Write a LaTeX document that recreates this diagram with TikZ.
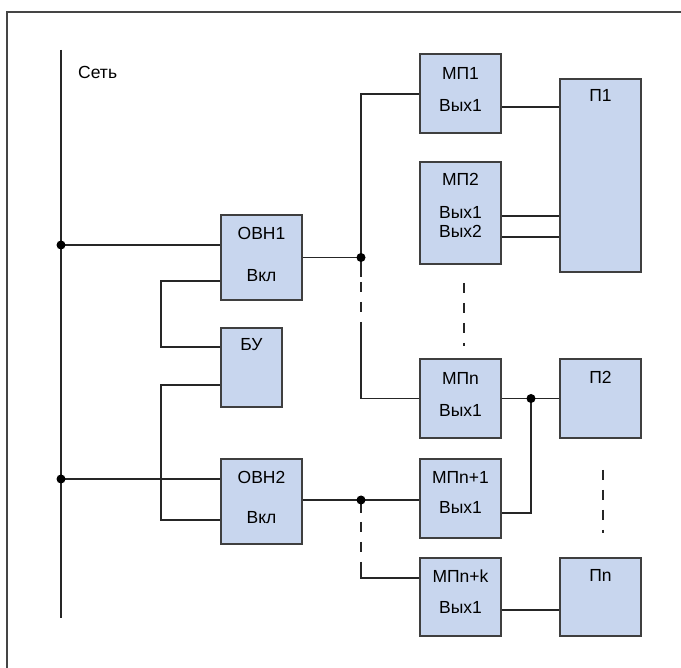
\documentclass[tikz,border=0pt]{standalone}
\usepackage{fontspec}
\setmainfont{Liberation Sans}
\usepackage{xcolor}
\usepackage{tikz}
\usetikzlibrary{calc,positioning}
\definecolor{blockfill}{HTML}{C8D6EE}
\definecolor{blockline}{HTML}{3F3F3F}
\definecolor{frameline}{HTML}{454545}
\tikzset{
  wire/.style={line width=1.7pt, draw=black!85},
  gapwire/.style={wire, dash pattern=on 10pt off 10pt},
  blk/.style={
    draw=blockline,
    line width=1.6pt,
    fill=blockfill,
    inner sep=0pt,
    minimum width=81pt
  },
  txt/.style={font=\fontsize{17.5}{20}\selectfont, inner sep=0pt, text=black},
  joint/.style={circle, fill=black, inner sep=0pt, minimum size=9pt}
}

\begin{document}
\begin{tikzpicture}[x=1pt,y=-1pt]
\useasboundingbox (0,0) rectangle (681,668);
\fill[white] (0,0) rectangle (681,668);
\draw[line width=1.7pt, frameline] (7,690) -- (7,12) -- (700,12);

\node[blk, minimum height=85pt] (ovn1) at (261.5,257.5) {};
\node[blk, minimum width=61pt, minimum height=79pt] (bu) at (251.5,367.5) {};
\node[blk, minimum height=85pt] (ovn2) at (261.5,501.5) {};
\node[blk, minimum height=79pt] (mp1) at (460.5,93.5) {};
\node[blk, minimum height=102pt] (mp2) at (460.5,213) {};
\node[blk, minimum height=79pt] (mpn) at (460.5,398.5) {};
\node[blk, minimum height=79pt] (mpn1) at (460.5,498.5) {};
\node[blk, minimum height=78pt] (mpnk) at (460.5,597) {};
\node[blk, minimum height=193pt] (p1) at (600.5,175.5) {};
\node[blk, minimum height=79pt] (p2) at (600.5,398.5) {};
\node[blk, minimum height=78pt] (pn) at (600.5,597) {};

\node[txt, anchor=west] (net) at (78,72) {Сеть};
\node[txt] (ovn1a) at (261.5,233) {ОВН1};
\node[txt] (ovn1b) at (261.5,276) {Вкл};
\node[txt] (bua) at (251.5,345) {БУ};
\node[txt] (ovn2a) at (261.5,477) {ОВН2};
\node[txt] (ovn2b) at (261.5,518) {Вкл};
\node[txt] (mp1a) at (460.5,73) {МП1};
\node[txt] (mp1b) at (460.5,105) {Вых1};
\node[txt] (mp2a) at (460.5,179) {МП2};
\node[txt] (mp2b) at (460.5,212) {Вых1};
\node[txt] (mp2c) at (460.5,231) {Вых2};
\node[txt] (mpna) at (460.5,378) {МПn};
\node[txt] (mpnb) at (460.5,410) {Вых1};
\node[txt] (mpn1a) at (460.5,477) {МПn+1};
\node[txt] (mpn1b) at (460.5,507) {Вых1};
\node[txt] (mpnka) at (460.5,576) {МПn+k};
\node[txt] (mpnkb) at (460.5,607) {Вых1};
\node[txt] (p1a) at (600.5,95) {П1};
\node[txt] (p2a) at (600.5,377) {П2};
\node[txt] (pna) at (600.5,575) {Пn};

\coordinate (nettop) at (61,50);
\coordinate (netbot) at (61,618);
\coordinate (tapA) at (61,245);
\coordinate (tapB) at (61,479);
\coordinate (busA) at (361,257.5);
\coordinate (busB) at (361,500);
\coordinate (outn) at (531,398.5);

\draw[wire] (nettop) -- (netbot);
\draw[wire] (tapA) -- (ovn1.west |- tapA);
\draw[wire] (tapB) -- (ovn2.west |- tapB);
\draw[wire] (bu.west |- 0,347) -- (161,347) -- (161,281) -- (ovn1.west |- 0,281);
\draw[wire] (bu.west |- 0,385) -- (161,385) -- (161,520) -- (ovn2.west |- 0,520);

\draw[wire] (ovn1.east) -- (busA) -- (361,94) -- (mp1.west |- 0,94);
\draw[wire] (busA) -- (361,277);
\draw[gapwire] (361,282) -- (361,327);
\draw[wire] (361,327) -- (361,398.5) -- (mpn.west);
\draw[wire] (ovn2.east |- busB) -- (busB) -- (mpn1.west |- busB);
\draw[wire] (busB) -- (361,513);
\draw[gapwire] (361,522) -- (361,562);
\draw[wire] (361,562) -- (361,578) -- (mpnk.west |- 0,578);

\draw[wire] (mp1.east |- 0,107) -- (p1.west |- 0,107);
\draw[wire] (mp2.east |- 0,216) -- (p1.west |- 0,216);
\draw[wire] (mp2.east |- 0,237) -- (p1.west |- 0,237);
\draw[wire] (mpn.east) -- (outn) -- (p2.west);
\draw[wire] (outn) -- (531,513) -- (mpn1.east |- 0,513);
\draw[wire] (mpnk.east |- 0,610) -- (pn.west |- 0,610);

\draw[gapwire] (mp2.south) ++(3.5,18) -- ++(0,63);
\draw[gapwire] (p2.south) ++(2.5,31) -- ++(0,63);

\node[joint] (jA) at (tapA) {};
\node[joint] (jB) at (tapB) {};
\node[joint] (jC) at (busA) {};
\node[joint] (jD) at (busB) {};
\node[joint] (jE) at (outn) {};
\end{tikzpicture}
\end{document}
